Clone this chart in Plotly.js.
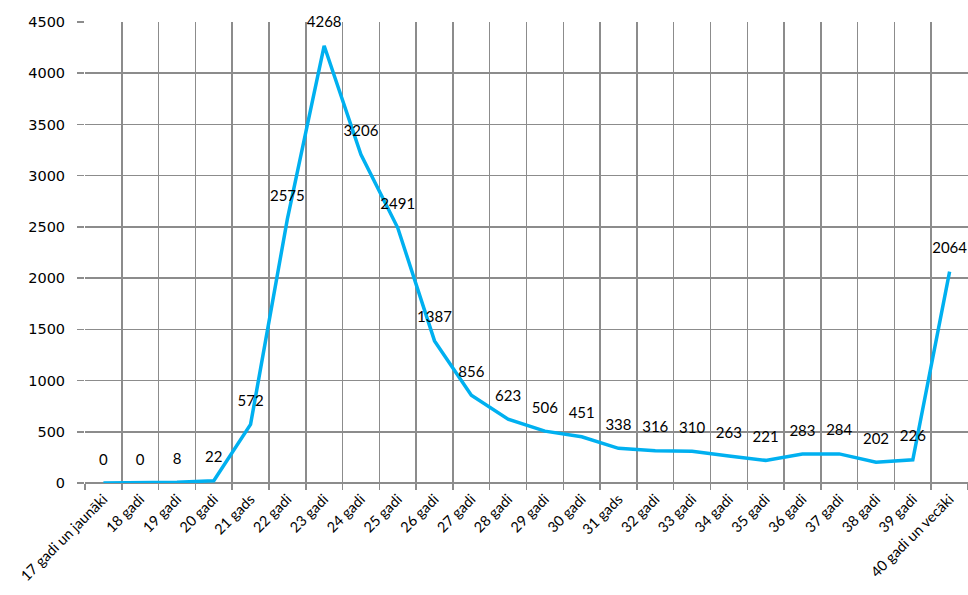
<!DOCTYPE html>
<html>
<head>
<meta charset="utf-8">
<script src="https://cdn.plot.ly/plotly-3.0.1.min.js"></script>
<style>html,body{margin:0;padding:0;background:#fff;}#chart{width:968px;height:595px;}</style>
</head>
<body>
<div id="chart"></div>
<script>
const categories = ["17 gadi un jaunāki","18 gadi","19 gadi","20 gadi","21 gads","22 gadi","23 gadi","24 gadi","25 gadi","26 gadi","27 gadi","28 gadi","29 gadi","30 gadi","31 gads","32 gadi","33 gadi","34 gadi","35 gadi","36 gadi","37 gadi","38 gadi","39 gadi","40 gadi un vecāki"];
const values = [0,0,8,22,572,2575,4268,3206,2491,1387,856,623,506,451,338,316,310,263,221,283,284,202,226,2064];
const yTicks = [0,500,1000,1500,2000,2500,3000,3500,4000,4500];

const trace = {
  x: categories,
  y: values,
  type: 'scatter',
  mode: 'lines+markers+text',
  line: {color: '#00b0f0', width: 3.5},
  marker: {size: 22, opacity: 0, color: '#00b0f0'},
  text: values.map(String),
  textposition: 'top center',
  textfont: {family: 'Lato, "Open Sans", sans-serif', size: 15, color: '#000'},
  hoverinfo: 'skip',
  cliponaxis: false
};

const layout = {
  width: 968, height: 595,
  margin: {l: 85, r: 0, t: 22, b: 112},
  paper_bgcolor: '#fff', plot_bgcolor: '#fff',
  showlegend: false,
  xaxis: {
    type: 'category',
    range: [-0.5, categories.length - 0.5],
    tickson: 'boundaries',
    showgrid: true, gridcolor: '#8c8c8c', gridwidth: 1.5,
    ticks: 'outside', ticklen: 6, tickcolor: '#8c8c8c', tickwidth: 1.5,
    tickangle: -45,
    ticklabelstandoff: 4,
    tickfont: {family: 'Lato, "Open Sans", sans-serif', size: 14.5, color: '#000'},
    showline: false, zeroline: false,
    automargin: false
  },
  yaxis: {
    range: [0, 4500],
    tickvals: yTicks,
    ticktext: yTicks.map(String),
    showgrid: true, gridcolor: '#8c8c8c', gridwidth: 1.5,
    ticks: 'outside', ticklen: 7, tickcolor: '#8c8c8c', tickwidth: 1.5,
    ticklabelstandoff: 9,
    tickfont: {family: '"DejaVu Sans", sans-serif', size: 14.5, color: '#000'},
    zeroline: true, zerolinecolor: '#8c8c8c', zerolinewidth: 1.5,
    showline: false,
    automargin: false
  }
};

Plotly.newPlot('chart', [trace], layout, {displayModeBar: false, staticPlot: true});
</script>
</body>
</html>
